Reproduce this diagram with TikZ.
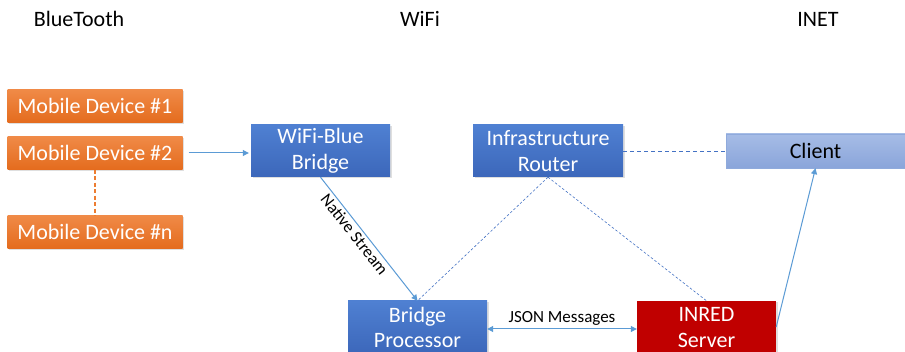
\documentclass[tikz,border=0pt]{standalone}
\usepackage{fontspec}
\setmainfont{Carlito}
\usetikzlibrary{arrows.meta,shadows}
\definecolor{orngTop}{HTML}{F08A47}
\definecolor{orngBot}{HTML}{E46C1E}
\definecolor{blueTop}{HTML}{4F80D2}
\definecolor{blueBot}{HTML}{3C67BA}
\definecolor{clientTop}{HTML}{A6BCE6}
\definecolor{clientBot}{HTML}{8AA5DA}
\definecolor{inred}{HTML}{C00000}
\definecolor{linkblue}{HTML}{5B9BD5}
\definecolor{dotblue}{HTML}{4472C4}
\definecolor{dashorng}{HTML}{ED7D31}
\tikzset{
  bigfont/.style={font=\fontsize{22}{25.5}\selectfont},
  shade/.style={drop shadow={opacity=0.25, shadow xshift=1.5pt, shadow yshift=-1.5pt}},
  mobilebox/.style={shade, top color=orngTop, bottom color=orngBot, draw=none,
    minimum width=175pt, minimum height=33pt, inner sep=0pt, text=white, bigfont},
  bluebox/.style={shade, top color=blueTop, bottom color=blueBot, draw=none,
    minimum height=52pt, inner sep=0pt, text=white, bigfont, align=center},
  clientbox/.style={shade, top color=clientTop, bottom color=clientBot, draw=dotblue!60, line width=0.4pt,
    minimum width=179pt, minimum height=34pt, inner sep=0pt, text=black, bigfont},
  redbox/.style={shade, fill=inred, draw=none, minimum width=139pt,
    minimum height=53pt, inner sep=0pt, text=white, bigfont, align=center},
  header/.style={bigfont, text=black},
  conn/.style={draw=linkblue, line width=1pt, -{Triangle[length=6pt,width=6pt]}},
  dotlink/.style={draw=dotblue, line width=0.6pt, dash pattern=on 2.5pt off 2pt},
  dashlink/.style={draw=dotblue, line width=0.7pt, dash pattern=on 4pt off 3pt},
  orngdash/.style={draw=dashorng, line width=1.2pt, dash pattern=on 4pt off 2.5pt},
  smalllabel/.style={font=\fontsize{17}{20}\selectfont, text=black}
}
\begin{document}
\begin{tikzpicture}[x=1pt,y=-1pt]
\clip (0,0) rectangle (905,352);
\fill[white] (0,0) rectangle (905,352);

% headers
\node[header] (hbt) at (79,19) {BlueTooth};
\node[header] (hwifi) at (420,19) {WiFi};
\node[header] (hinet) at (818,19) {INET};

% mobile devices
\node[mobilebox] (md1) at (95,106) {Mobile Device \#1};
\node[mobilebox] (md2) at (95,153) {Mobile Device \#2};
\node[mobilebox] (mdn) at (95,232) {Mobile Device \#n};

% WiFi boxes
\node[bluebox, minimum width=139pt] (bridge) at (320.5,151) {WiFi-Blue\\Bridge};
\node[bluebox, minimum width=150pt] (router) at (548,151) {Infrastructure\\Router};
\node[bluebox, minimum width=139pt, minimum height=53pt] (proc) at (417.5,327.5) {Bridge\\Processor};

% INET boxes
\node[clientbox] (client) at (815.5,151) {Client};
\node[redbox] (inred) at (706.5,327.5) {INRED\\Server};

% connectors
\draw[orngdash] (md2.south) -- (mdn.north);
\draw[conn, shorten <=6pt, shorten >=2pt] (md2.east) -- (md2.east -| bridge.west);
\draw[conn] (bridge.south) -- (proc.north)
  node[smalllabel, pos=0.42, sloped, below, inner sep=2pt] {Native Stream};
\draw[dotlink] (router.south) -- (proc.north);
\draw[dotlink] (router.south) -- (inred.north);
\draw[dashlink] (router.east) -- (client.west);
\draw[conn, {Triangle[length=6pt,width=6pt]}-{Triangle[length=6pt,width=6pt]}] ([yshift=-1.5pt]proc.east) -- ([yshift=-1.5pt]inred.west)
  node[smalllabel, midway, above, inner sep=3pt] {JSON Messages};
\draw[conn] ([yshift=0.5pt]inred.east) -- (client.south);
\end{tikzpicture}
\end{document}
